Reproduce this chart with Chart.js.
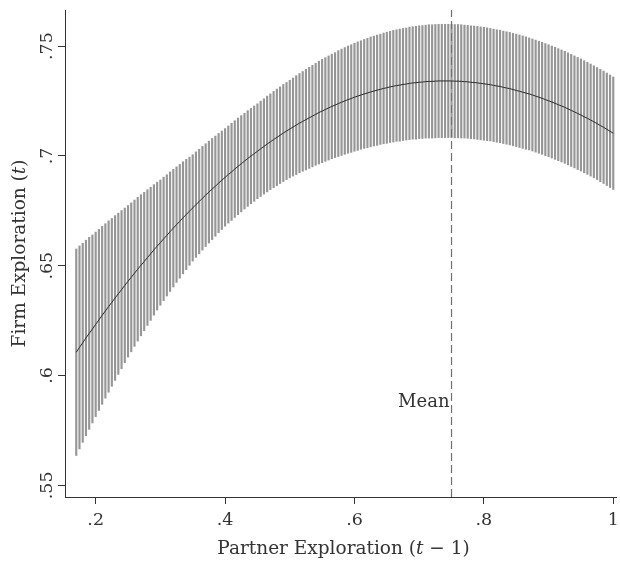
<!DOCTYPE html>
<html>
<head>
<meta charset="utf-8">
<script src="https://cdn.jsdelivr.net/npm/chart.js@4.4.1/dist/chart.umd.min.js"></script>
<style>
  html, body { margin: 0; padding: 0; background: #fff; }
  #wrap { width: 620px; height: 563px; }
</style>
</head>
<body>
<div id="wrap"><canvas id="c" width="620" height="563"></canvas></div>
<script>
// ---- Data ----
const xValues = [
  0.170,0.175,0.180,0.185,0.190,0.195,0.200,0.205,0.210,0.215,
  0.220,0.225,0.230,0.235,0.240,0.245,0.250,0.255,0.260,0.265,
  0.270,0.275,0.280,0.285,0.290,0.295,0.300,0.305,0.310,0.315,
  0.320,0.325,0.330,0.335,0.340,0.345,0.350,0.355,0.360,0.365,
  0.370,0.375,0.380,0.385,0.390,0.395,0.400,0.405,0.410,0.415,
  0.420,0.425,0.430,0.435,0.440,0.445,0.450,0.455,0.460,0.465,
  0.470,0.475,0.480,0.485,0.490,0.495,0.500,0.505,0.510,0.515,
  0.520,0.525,0.530,0.535,0.540,0.545,0.550,0.555,0.560,0.565,
  0.570,0.575,0.580,0.585,0.590,0.595,0.600,0.605,0.610,0.615,
  0.620,0.625,0.630,0.635,0.640,0.645,0.650,0.655,0.660,0.665,
  0.670,0.675,0.680,0.685,0.690,0.695,0.700,0.705,0.710,0.715,
  0.720,0.725,0.730,0.735,0.740,0.745,0.750,0.755,0.760,0.765,
  0.770,0.775,0.780,0.785,0.790,0.795,0.800,0.805,0.810,0.815,
  0.820,0.825,0.830,0.835,0.840,0.845,0.850,0.855,0.860,0.865,
  0.870,0.875,0.880,0.885,0.890,0.895,0.900,0.905,0.910,0.915,
  0.920,0.925,0.930,0.935,0.940,0.945,0.950,0.955,0.960,0.965,
  0.970,0.975,0.980,0.985,0.990,0.995,1.000
];
const predicted = [
  0.6106,0.6128,0.6149,0.6171,0.6192,0.6212,0.6233,0.6253,0.6274,0.6294,
  0.6314,0.6333,0.6353,0.6372,0.6391,0.6410,0.6429,0.6447,0.6466,0.6484,
  0.6502,0.6519,0.6537,0.6554,0.6572,0.6589,0.6605,0.6622,0.6638,0.6655,
  0.6671,0.6687,0.6702,0.6718,0.6733,0.6748,0.6763,0.6778,0.6792,0.6807,
  0.6821,0.6835,0.6849,0.6862,0.6876,0.6889,0.6902,0.6915,0.6927,0.6940,
  0.6952,0.6964,0.6976,0.6988,0.6999,0.7010,0.7021,0.7032,0.7043,0.7054,
  0.7064,0.7074,0.7084,0.7094,0.7104,0.7113,0.7122,0.7131,0.7140,0.7149,
  0.7157,0.7165,0.7173,0.7181,0.7189,0.7197,0.7204,0.7211,0.7218,0.7225,
  0.7231,0.7238,0.7244,0.7250,0.7256,0.7261,0.7267,0.7272,0.7277,0.7282,
  0.7286,0.7291,0.7295,0.7299,0.7303,0.7307,0.7310,0.7314,0.7317,0.7320,
  0.7322,0.7325,0.7327,0.7330,0.7332,0.7333,0.7335,0.7336,0.7338,0.7339,
  0.7339,0.7340,0.7341,0.7341,0.7341,0.7341,0.7341,0.7340,0.7340,0.7339,
  0.7338,0.7337,0.7335,0.7334,0.7332,0.7330,0.7328,0.7326,0.7324,0.7321,
  0.7318,0.7316,0.7312,0.7309,0.7306,0.7302,0.7298,0.7294,0.7290,0.7286,
  0.7282,0.7277,0.7272,0.7267,0.7262,0.7256,0.7251,0.7245,0.7239,0.7233,
  0.7227,0.7221,0.7214,0.7207,0.7200,0.7193,0.7186,0.7178,0.7171,0.7163,
  0.7155,0.7147,0.7138,0.7130,0.7121,0.7112,0.7103
];
const ciHalfWidth = [
  0.0470,0.0462,0.0453,0.0445,0.0437,0.0428,0.0420,0.0412,0.0405,0.0397,
  0.0390,0.0382,0.0375,0.0367,0.0360,0.0352,0.0345,0.0339,0.0333,0.0327,
  0.0321,0.0315,0.0309,0.0303,0.0297,0.0291,0.0285,0.0281,0.0276,0.0272,
  0.0268,0.0263,0.0259,0.0255,0.0251,0.0246,0.0242,0.0240,0.0238,0.0236,
  0.0234,0.0232,0.0230,0.0228,0.0226,0.0224,0.0222,0.0221,0.0221,0.0220,
  0.0220,0.0219,0.0218,0.0218,0.0217,0.0217,0.0216,0.0217,0.0217,0.0218,
  0.0218,0.0219,0.0220,0.0220,0.0221,0.0221,0.0222,0.0223,0.0225,0.0226,
  0.0227,0.0229,0.0230,0.0231,0.0232,0.0234,0.0235,0.0236,0.0237,0.0238,
  0.0239,0.0241,0.0242,0.0243,0.0244,0.0245,0.0246,0.0247,0.0247,0.0248,
  0.0249,0.0250,0.0250,0.0251,0.0251,0.0252,0.0253,0.0253,0.0254,0.0254,
  0.0255,0.0255,0.0255,0.0256,0.0256,0.0257,0.0257,0.0257,0.0257,0.0258,
  0.0258,0.0258,0.0258,0.0258,0.0258,0.0258,0.0258,0.0258,0.0258,0.0258,
  0.0257,0.0257,0.0257,0.0257,0.0257,0.0257,0.0257,0.0257,0.0256,0.0256,
  0.0256,0.0256,0.0256,0.0256,0.0256,0.0256,0.0256,0.0256,0.0256,0.0256,
  0.0255,0.0255,0.0255,0.0255,0.0255,0.0255,0.0255,0.0255,0.0255,0.0255,
  0.0255,0.0255,0.0255,0.0255,0.0255,0.0255,0.0255,0.0255,0.0255,0.0255,
  0.0255,0.0255,0.0256,0.0256,0.0256,0.0256,0.0256
];
const meanX = 0.75;
const meanLabel = 'Mean';
const meanLabelY = 0.588;
const xTicks = [0.2, 0.4, 0.6, 0.8, 1];
const xTickLabels = ['.2', '.4', '.6', '.8', '1'];
const yTicks = [0.55, 0.6, 0.65, 0.7, 0.75];
const yTickLabels = ['.55', '.6', '.65', '.7', '.75'];
const xRange = [0.1526, 1.0042];
const yRange = [0.5447, 0.7664];
const xTitleParts = [['Partner Exploration (', false], ['t', true], [' \u2212 1)', false]];
const yTitleParts = [['Firm Exploration (', false], ['t', true], [')', false]];

// ---- Build datasets ----
const ciBars = xValues.map((x, i) => ({ x: x, y: [+(predicted[i] - ciHalfWidth[i]).toFixed(4), +(predicted[i] + ciHalfWidth[i]).toFixed(4)] }));
const line = xValues.map((x, i) => ({ x: x, y: predicted[i] }));
const meanLine = [{ x: meanX, y: yRange[0] }, { x: meanX, y: yRange[1] }];

const FONT = '"DejaVu Serif", "Liberation Serif", serif';
const TEXT = '#333333';

function drawParts(ctx, parts, size) {
  let total = 0;
  const widths = parts.map(([t, it]) => {
    ctx.font = (it ? 'italic ' : '') + size + 'px ' + FONT;
    const w = ctx.measureText(t).width; total += w; return w;
  });
  let cx = -total / 2;
  parts.forEach(([t, it], i) => {
    ctx.font = (it ? 'italic ' : '') + size + 'px ' + FONT;
    ctx.fillText(t, cx, 0);
    cx += widths[i];
  });
}

const textPlugin = {
  id: 'texts',
  afterDraw(chart) {
    const { ctx, chartArea: a, scales } = chart;
    const xs = scales.x, ys = scales.y;
    ctx.save();
    ctx.fillStyle = TEXT;
    ctx.textBaseline = 'alphabetic';
    ctx.textAlign = 'center';
    // rotated y tick labels
    ctx.font = '17.5px ' + FONT;
    yTicks.forEach((v, i) => {
      const py = ys.getPixelForValue(v);
      ctx.save();
      ctx.translate(a.left - 13, py);
      ctx.rotate(-Math.PI / 2);
      ctx.fillText(yTickLabels[i], 0, 0);
      ctx.restore();
    });
    // y title
    ctx.textAlign = 'left';
    ctx.save();
    ctx.translate(25, (a.top + a.bottom) / 2);
    ctx.rotate(-Math.PI / 2);
    drawParts(ctx, yTitleParts, 18.5);
    ctx.restore();
    // x title
    ctx.save();
    ctx.translate((a.left + a.right) / 2 + 3, 554);
    drawParts(ctx, xTitleParts, 18.5);
    ctx.restore();
    // Mean label
    ctx.font = '18px ' + FONT;
    ctx.textAlign = 'right';
    ctx.textBaseline = 'middle';
    ctx.fillText(meanLabel, xs.getPixelForValue(meanX) - 2, ys.getPixelForValue(meanLabelY));
    ctx.restore();
  }
};

new Chart(document.getElementById('c'), {
  type: 'bar',
  data: {
    datasets: [
      { type: 'line', data: line, borderColor: '#2b2b2b', borderWidth: 1, pointRadius: 0, tension: 0, order: 0 },
      { type: 'line', data: meanLine, borderColor: '#707070', borderWidth: 1.2, borderDash: [8, 4], pointRadius: 0, order: 1 },
      { type: 'bar', data: ciBars, backgroundColor: '#969696', borderWidth: 0, barThickness: 1.5, grouped: false, order: 2 }
    ]
  },
  options: {
    responsive: false,
    animation: false,
    devicePixelRatio: 1,
    layout: { padding: { top: 10, right: 4, bottom: 0, left: 0 } },
    plugins: { legend: { display: false }, tooltip: { enabled: false } },
    scales: {
      x: {
        type: 'linear', min: xRange[0], max: xRange[1], offset: false,
        afterBuildTicks: s => { s.ticks = xTicks.map(v => ({ value: v })); },
        afterFit: s => { s.height = 66; s.paddingLeft = 0; s.paddingRight = 0; },
        grid: { display: true, drawOnChartArea: false, drawTicks: true, tickLength: 7, color: '#333', offset: false },
        border: { display: true, color: '#333', width: 1 },
        ticks: { callback: (v, i) => xTickLabels[i], font: { family: FONT, size: 17.5 }, color: TEXT, padding: 6, maxRotation: 0, autoSkip: false }
      },
      y: {
        type: 'linear', min: yRange[0], max: yRange[1],
        afterBuildTicks: s => { s.ticks = yTicks.map(v => ({ value: v })); },
        afterFit: s => { s.width = 65; s.paddingTop = 0; s.paddingBottom = 0; },
        grid: { display: true, drawOnChartArea: false, drawTicks: true, tickLength: 7, color: '#333' },
        border: { display: true, color: '#333', width: 1 },
        ticks: { display: false }
      }
    }
  },
  plugins: [textPlugin]
});
</script>
</body>
</html>
